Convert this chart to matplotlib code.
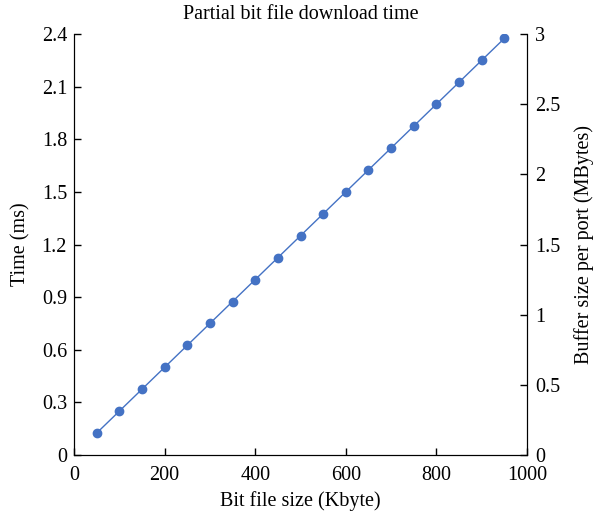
import matplotlib
matplotlib.use("Agg")
import matplotlib.pyplot as plt

# 数据
bit_file_size = [50, 100, 150, 200, 250, 300, 350, 400, 450, 500,
                 550, 600, 650, 700, 750, 800, 850, 900, 950]
time_ms = [0.125, 0.25, 0.375, 0.5, 0.625, 0.75, 0.875, 1.0, 1.125, 1.25,
           1.375, 1.5, 1.625, 1.75, 1.875, 2.0, 2.125, 2.25, 2.375]
left_ticks = [0, 0.3, 0.6, 0.9, 1.2, 1.5, 1.8, 2.1, 2.4]
left_labels = ["0", "0.3", "0.6", "0.9", "1.2", "1.5", "1.8", "2.1", "2.4"]
right_ticks = [0, 0.5, 1, 1.5, 2, 2.5, 3]
right_labels = ["0", "0.5", "1", "1.5", "2", "2.5", "3"]
x_ticks = [0, 200, 400, 600, 800, 1000]

plt.rcParams['font.family'] = ['Liberation Serif', 'DejaVu Serif']
plt.rcParams['font.size'] = 14.5

color = "#4472C4"

fig = plt.figure(figsize=(5.95, 5.19), dpi=100)
ax = fig.add_axes([0.1244, 0.1233, 0.7613, 0.8112])

ax.plot(bit_file_size, time_ms, '-o', color=color, linewidth=1.0, markersize=6)

ax.set_xlim(0, 1000)
ax.set_ylim(0, 2.4)
ax.set_xticks(x_ticks)
ax.set_yticks(left_ticks)
ax.set_yticklabels(left_labels)
ax.tick_params(direction='in', length=5, width=1)
ax.tick_params(axis='y', pad=5)
ax.tick_params(axis='x', pad=8)
ax.spines['top'].set_visible(False)
ax.set_xlabel("Bit file size (Kbyte)", labelpad=4)
ax.set_ylabel("Time (ms)", labelpad=8)
ax.set_title("Partial bit file download time", fontsize=14.5, pad=11)

# 右侧坐标轴
ax2 = ax.twinx()
ax2.set_ylim(0, 3)
ax2.set_yticks(right_ticks)
ax2.set_yticklabels(right_labels)
ax2.tick_params(direction='in', length=5, width=1, pad=6)
ax2.spines['top'].set_visible(False)
ax2.set_ylabel("Buffer size per port (MBytes)", labelpad=10)

fig.savefig("out.png", dpi=100)
